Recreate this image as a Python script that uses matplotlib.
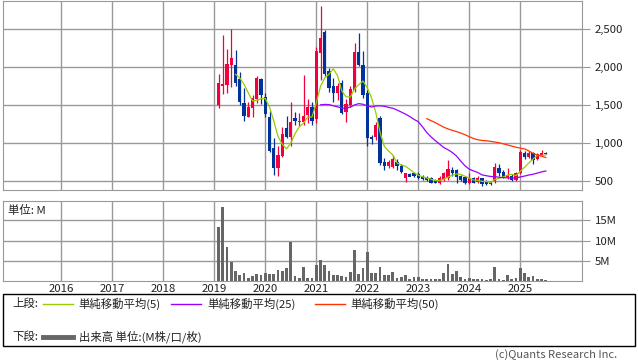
import numpy as np
import pandas as pd
import matplotlib
matplotlib.use("Agg")
import matplotlib.pyplot as plt
from matplotlib.patches import Rectangle
from matplotlib.lines import Line2D

plt.rcParams['font.family'] = ['Noto Sans CJK JP', 'DejaVu Sans']

# monthly candles, Feb 2019 - Jul 2025
months = pd.period_range("2019-02", "2025-07", freq="M")
opens = [1500, 1750, 1763, 2026, 2026, 1842, 1522, 1346, 1465, 1579, 1842,
         1601, 1346, 938, 675, 833, 1193, 1083, 1329, 1272, 1280, 1364, 1478,
         1312, 2180, 2456, 1948, 1750, 1662, 1794, 1412, 1500, 1698, 2201, 2026,
         1654, 1075, 1075, 1330, 745, 695, 690, 755, 700, 536, 592, 609,
         592, 557, 540, 536, 513, 478, 513, 545, 645, 640, 560, 550,
         478, 536, 492, 536, 492, 490, 500, 667, 622, 557, 570, 513,
         601, 864, 820, 864, 790, 840, 870]
highs = [1908, 2421, 2237, 2496, 2224, 1938, 1728, 1544, 1632, 1881, 1855,
         1654, 1421, 1070, 965, 1211, 1355, 1539, 1408, 1400, 1895, 1579, 1535,
         2267, 2803, 2487, 1983, 1851, 1786, 1829, 1575, 1750, 2320, 2452, 2214,
         1698, 1100, 1272, 1360, 800, 770, 845, 790, 720, 605, 610, 625,
         620, 575, 560, 550, 530, 560, 620, 780, 680, 660, 580, 560,
         600, 550, 560, 545, 510, 500, 737, 720, 650, 670, 590, 620,
         910, 890, 890, 880, 870, 910, 880]
lows = [1465, 1645, 1654, 1733, 1750, 1500, 1294, 1342, 1342, 1522, 1513,
        1338, 886, 579, 570, 812, 1061, 961, 1241, 1230, 1237, 1263, 1233,
        1263, 1829, 1882, 1675, 1535, 1566, 1380, 1272, 1478, 1675, 2013, 1588,
        961, 990, 1040, 715, 650, 670, 665, 640, 600, 491, 560, 550,
        530, 515, 500, 470, 470, 465, 500, 520, 560, 470, 500, 460,
        465, 470, 480, 440, 450, 445, 470, 560, 540, 530, 500, 500,
        590, 790, 800, 720, 770, 830, 850]
closes = [1786, 1773, 2040, 2123, 1794, 1546, 1359, 1478, 1588, 1851, 1632,
          1386, 895, 675, 842, 1119, 1083, 1276, 1294, 1294, 1359, 1478, 1294,
          2214, 2386, 1908, 1720, 1662, 1750, 1391, 1513, 1707, 2201, 2026, 1632,
          1061, 1050, 1237, 735, 700, 755, 790, 700, 620, 601, 557, 566,
          536, 522, 513, 478, 478, 544, 601, 660, 601, 557, 520, 475,
          536, 478, 536, 455, 465, 456, 690, 601, 557, 583, 513, 601,
          886, 820, 864, 776, 850, 870, 855]
volumes = [13.2, 18.3, 8.3, 4.7, 2.5, 1.5, 2.0, 0.8, 1.3, 1.8, 1.5,
           2.0, 1.8, 1.8, 2.8, 2.5, 3.3, 9.6, 1.3, 0.8, 3.5, 0.8, 0.8,
           4.0, 5.2, 4.0, 2.5, 1.5, 1.5, 1.3, 1.0, 2.3, 7.7, 1.8, 3.3,
           7.2, 2.0, 2.0, 3.5, 1.5, 1.5, 2.3, 0.8, 1.0, 1.5, 0.5, 1.0,
           1.0, 0.5, 0.5, 0.5, 0.5, 0.5, 2.0, 4.3, 1.8, 2.5, 1.0, 0.5,
           0.8, 0.5, 0.5, 0.5, 0.2, 0.5, 3.5, 0.5, 0.2, 1.5, 0.5, 0.8,
           3.3, 2.0, 1.0, 1.3, 0.5, 0.5, 0.2]

years = list(range(2016, 2026))
price_ticks = [500, 1000, 1500, 2000, 2500]
vol_ticks = [5, 10, 15]

RED = '#f0003c'
BLUE = '#003399'
GRID = '#999999'
TXT = '#222222'
FS = 8.2

W, H = 638, 362
fig = plt.figure(figsize=(W / 100, H / 100), dpi=100)
fig.patch.set_facecolor('white')


def px_axes(left, top, right, bottom):
    return fig.add_axes([left / W, 1 - bottom / H, (right - left) / W, (bottom - top) / H])


x = np.array(months.year + (months.month - 1) / 12.0)
o = np.array(opens, float)
c = np.array(closes, float)
colors = [RED if cc >= oo else BLUE for oo, cc in zip(o, c)]

# upper panel
ax = px_axes(3.3, 1, 582.3, 190.3)
ax.set_xlim(2014.863, 2026.216)
ax.set_ylim(378, 2868)
ax.set_axisbelow(True)
ax.vlines(x, lows, highs, colors=colors, lw=0.9)
body = np.maximum(np.abs(c - o), 12)
ax.bar(x, body, bottom=np.minimum(o, c), width=0.8 / 12, color=colors, lw=0)

cs = pd.Series(closes)
ax.plot(x, cs.rolling(5).mean(), color='#99cc00', lw=0.9)
ax.plot(x, cs.rolling(25).mean(), color='#9900ff', lw=0.9)
ax.plot(x, cs.rolling(50).mean(), color='#ff3300', lw=0.9)

ax.set_xticks(years)
ax.set_yticks(price_ticks)
ax.set_yticklabels([f"{v:,}" for v in price_ticks])
ax.grid(True, color=GRID, lw=1)
ax.tick_params(axis='x', length=0, labelbottom=False)
ax.tick_params(axis='y', left=False, labelleft=False, right=True, labelright=True,
               length=6, color=GRID, pad=3, labelsize=FS, labelcolor=TXT)
for s in ax.spines.values():
    s.set_color(GRID)

# lower panel
ax2 = px_axes(3.3, 201, 582.3, 281.3)
ax2.set_xlim(2014.863, 2026.216)
ax2.set_ylim(0, 19.7)
ax2.set_axisbelow(True)
ax2.bar(x, volumes, width=0.65 / 12, color='#666666', lw=0)
ax2.set_xticks(years)
ax2.set_xticklabels([str(y) for y in years])
ax2.set_yticks(vol_ticks)
ax2.set_yticklabels([f"{v}M" for v in vol_ticks])
ax2.grid(True, color=GRID, lw=1)
ax2.tick_params(axis='x', length=0, pad=2, labelsize=FS, labelcolor=TXT)
ax2.tick_params(axis='y', left=False, labelleft=False, right=True, labelright=True,
                length=6, color=GRID, pad=3, labelsize=FS, labelcolor=TXT)
for s in ax2.spines.values():
    s.set_color(GRID)
ax2.text(0.008, 0.88, "単位: M", transform=ax2.transAxes, fontsize=FS,
         ha='left', va='center', color=TXT)

# legend box
fx = lambda px: px / W
fy = lambda py: 1 - py / H
fig.patches.append(Rectangle((fx(3.3), fy(346)), fx(632), 52 / H, transform=fig.transFigure,
                             fill=False, edgecolor='black', lw=1))
row1, row2 = 303.5, 337
fig.text(fx(12), fy(row1), "上段:", fontsize=FS, va='center', color=TXT)
fig.text(fx(12), fy(row2), "下段:", fontsize=FS, va='center', color=TXT)
items = [(43, 73, 78, '#99cc00', "単純移動平均(5)"),
         (171, 201, 207, '#9900ff', "単純移動平均(25)"),
         (315, 345, 350, '#ff3300', "単純移動平均(50)")]
for x0, x1, tx, col, label in items:
    fig.lines.append(Line2D([fx(x0), fx(x1)], [fy(row1), fy(row1)], transform=fig.transFigure,
                            color=col, lw=1))
    fig.text(fx(tx), fy(row1), label, fontsize=FS, va='center', color=TXT)
fig.lines.append(Line2D([fx(43), fx(73)], [fy(row2), fy(row2)], transform=fig.transFigure,
                        color='#666666', lw=3.5))
fig.text(fx(79), fy(row2), "出来高 単位:(M株/口/枚)", fontsize=FS, va='center', color=TXT)

fig.text(fx(617), fy(354.5), "(c)Quants Research Inc.", fontsize=8, ha='right', va='center',
         color='#555555')

fig.savefig("out.png", dpi=100)
